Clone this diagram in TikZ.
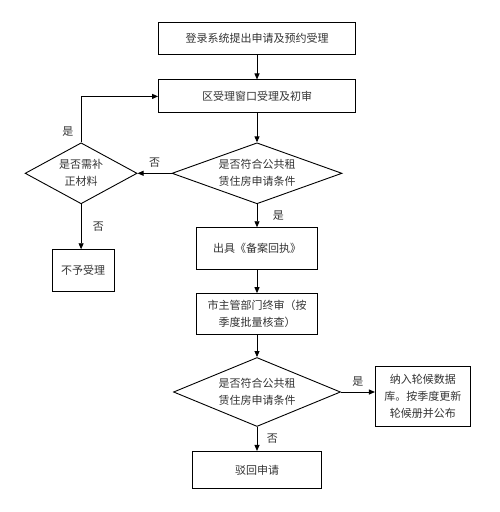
\documentclass[tikz,border=0pt]{standalone}
\usepackage{fontspec}
\setmainfont{Noto Sans CJK SC}
\definecolor{InkGray}{HTML}{333333}
\usetikzlibrary{
  arrows.meta,
  positioning,
  shapes.geometric
}

\begin{document}
\begin{tikzpicture}[
  x=1pt, y=-1pt,
  node distance=25pt,
  box/.style={
    rectangle, draw=black, line width=0.9pt,
    minimum width=197pt, minimum height=32pt,
    font=\fontsize{11}{17}\selectfont, text=InkGray,
    align=center
  },
  decision/.style={
    diamond, aspect=2.5, inner sep=0pt,
    draw=black, line width=0.9pt,
    font=\fontsize{11}{17}\selectfont, text=InkGray,
    align=center
  },
  arr/.style={
    -{Triangle[length=6pt,width=5pt]}, line width=0.9pt, black
  },
  lbl/.style={
    font=\fontsize{11}{13}\selectfont, text=InkGray
  }
]
  \useasboundingbox (0,0) rectangle (500,512);

  \node[box] (login) at (257,38) {登录系统提出申请及预约受理};
  \node[box, below=of login, minimum height=33pt] (window) {区受理窗口受理及初审};
  \node[decision, below=29pt of window,
    minimum width=170pt, minimum height=61pt] (check) {是否符合公共租\\赁住房申请条件};
  \node[decision, left=34pt of check, aspect=2,
    minimum width=112pt, minimum height=61pt] (supp) {是否需补\\正材料};
  \node[box, below=45pt of supp, xshift=2pt,
    minimum width=62pt, minimum height=42pt] (refuse) {不予受理};
  \node[box, below=23pt of check,
    minimum width=121pt, minimum height=42pt] (receipt) {出具《备案回执》};
  \node[box, below=23pt of receipt,
    minimum width=121pt, minimum height=41pt] (final) {市主管部门终审（按\\季度批量核查）};
  \node[decision, below=22pt of final,
    minimum width=167pt, minimum height=69pt] (check2) {是否符合公共租\\赁住房申请条件};
  \node[box, right=34pt of check2, yshift=-4pt,
    minimum width=95pt, minimum height=60pt] (queue) {纳入轮候数据\\库。按季度更新\\轮候册并公布};
  \node[box, below=24pt of check2,
    minimum width=129pt, minimum height=37pt] (dismiss) {驳回申请};

  \draw[arr] (login) -- (window);
  \draw[arr] (window) -- (check);
  \draw[arr] (check) -- node[lbl, midway, above=2pt] {否} (supp);
  \draw[arr] (check) -- node[lbl, midway, right=12pt] {是} (receipt);
  \draw[arr] (supp) -- node[lbl, midway, right=8pt] {否} (supp |- refuse.north);
  \draw[arr] (receipt) -- (final);
  \draw[arr] (final) -- (check2);
  \draw[arr] (check2) -- node[lbl, midway, above=2pt] {是} (check2 -| queue.west);
  \draw[arr] (check2) -- node[lbl, midway, right=6pt] {否} (dismiss);

  % Back to the window when papers are missing
  \draw[arr] (supp.north) |-
    node[lbl, pos=0.12, left=4pt] {是} (window.west);
\end{tikzpicture}
\end{document}
